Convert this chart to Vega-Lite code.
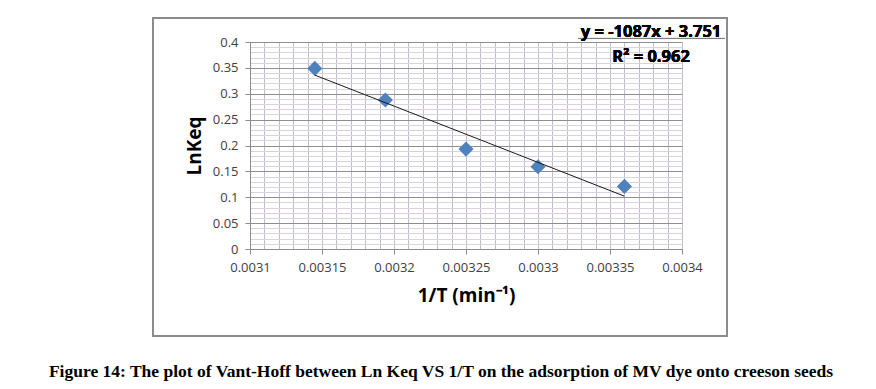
{
  "$schema": "https://vega.github.io/schema/vega-lite/v6.json",
  "width": 432,
  "height": 207,
  "autosize": "none",
  "padding": {"left": 250, "top": 42, "right": 194, "bottom": 140},
  "background": "white",
  "config": {
    "view": {"stroke": null},
    "font": "Open Sans"
  },
  "title": {
    "text": "Figure 14: The plot of Vant-Hoff between Ln Keq VS 1/T on the adsorption of MV dye onto creeson seeds",
    "orient": "bottom",
    "anchor": "middle",
    "frame": "group",
    "font": "Liberation Serif",
    "fontSize": 17.5,
    "fontWeight": "bold",
    "color": "#000000",
    "offset": 26,
    "dx": -25
  },
  "data": {
    "values": [
      {"invT": 0.003145, "lnk": 0.349},
      {"invT": 0.003194, "lnk": 0.288},
      {"invT": 0.00325, "lnk": 0.193},
      {"invT": 0.0033, "lnk": 0.159},
      {"invT": 0.00336, "lnk": 0.121}
    ]
  },
  "layer": [
    {
      "mark": {"type": "rect", "fill": null, "stroke": "#8c8c8c", "strokeWidth": 1.5, "clip": false},
      "encoding": {
        "x": {"datum": 0.0030326, "type": "quantitative", "scale": {"domain": [0.0031, 0.0034], "nice": false, "zero": false}, "axis": null},
        "x2": {"datum": 0.0034313},
        "y": {"datum": 0.44638, "type": "quantitative", "scale": {"domain": [0, 0.4], "nice": false}, "axis": null},
        "y2": {"datum": -0.16812}
      }
    },
    {
      "mark": {"type": "point", "opacity": 0},
      "encoding": {
        "x": {
          "field": "invT", "type": "quantitative",
          "axis": {
            "orient": "top", "title": null, "labels": false, "ticks": false, "domain": false,
            "grid": true, "gridColor": "#c2bcc8", "gridWidth": 1,
            "values": [0.00311,0.00312,0.00313,0.00314,0.00316,0.00317,0.00318,0.00319,0.00321,0.00322,0.00323,0.00324,0.00326,0.00327,0.00328,0.00329,0.00331,0.00332,0.00333,0.00334,0.00336,0.00337,0.00338,0.00339]
          }
        },
        "y": {
          "field": "lnk", "type": "quantitative",
          "axis": {
            "orient": "right", "title": null, "labels": false, "ticks": false, "domain": false,
            "grid": true, "gridColor": "#d9d3e0", "gridWidth": 1,
            "values": [0.01,0.02,0.03,0.04,0.06,0.07,0.08,0.09,0.11,0.12,0.13,0.14,0.16,0.17,0.18,0.19,0.21,0.22,0.23,0.24,0.26,0.27,0.28,0.29,0.31,0.32,0.33,0.34,0.36,0.37,0.38,0.39]
          }
        }
      }
    },
    {
      "mark": {"type": "point", "shape": "diamond", "filled": true, "size": 230, "color": "#4f81bd", "opacity": 1},
      "encoding": {
        "x": {
          "field": "invT", "type": "quantitative",
          "axis": {
            "orient": "bottom",
            "title": "1/T (min⁻¹)",
            "values": [0.0031,0.00315,0.0032,0.00325,0.0033,0.00335,0.0034],
            "format": ".5~f",
            "labelFlush": false, "labelOverlap": false,
            "grid": true, "gridColor": "#c2bcc8",
            "domain": true, "domainColor": "#8c8c8c",
            "ticks": true, "tickColor": "#8c8c8c", "tickSize": 5,
            "labelFont": "Open Sans", "labelFontSize": 13, "labelColor": "#404040", "labelPadding": 7,
            "titleFont": "Open Sans", "titleFontSize": 19, "titleFontWeight": "bold", "titleColor": "#000000", "titlePadding": 12
          }
        },
        "y": {
          "field": "lnk", "type": "quantitative",
          "axis": {
            "orient": "left",
            "title": "LnKeq",
            "values": [0,0.05,0.1,0.15,0.2,0.25,0.3,0.35,0.4],
            "format": ".2~f",
            "labelFlush": false, "labelOverlap": false,
            "grid": true, "gridColor": "#8f8f8f",
            "domain": true, "domainColor": "#8c8c8c",
            "ticks": true, "tickColor": "#8c8c8c", "tickSize": 5,
            "labelFont": "Open Sans", "labelFontSize": 13, "labelColor": "#404040", "labelPadding": 7,
            "titleFont": "Open Sans", "titleFontSize": 19, "titleFontWeight": "bold", "titleColor": "#000000", "titlePadding": 8
          }
        }
      }
    },
    {
      "transform": [{"regression": "lnk", "on": "invT"}],
      "mark": {"type": "line", "color": "#1a1a1a", "strokeWidth": 1},
      "encoding": {
        "x": {"field": "invT", "type": "quantitative", "axis": null},
        "y": {"field": "lnk", "type": "quantitative", "axis": null}
      }
    },
    {
      "mark": {"type": "rule", "color": "#7f7f7f", "strokeWidth": 1, "clip": false},
      "encoding": {
        "x": {"datum": 0.0033278, "type": "quantitative", "axis": null},
        "x2": {"datum": 0.0034298},
        "y": {"datum": 0.4068, "type": "quantitative", "axis": null}
      }
    },
    {
      "mark": {"type": "text", "align": "center", "baseline": "middle", "font": "Open Sans", "fontSize": 16.5, "fontWeight": "bold", "color": "#000000", "lineHeight": 25, "clip": false},
      "encoding": {
        "x": {"datum": 0.0033785, "type": "quantitative", "axis": null},
        "y": {"datum": 0.41933, "type": "quantitative", "axis": null},
        "text": {"value": ["y = -1087x + 3.751", "R² = 0.962"]}
      }
    }
  ]
}
